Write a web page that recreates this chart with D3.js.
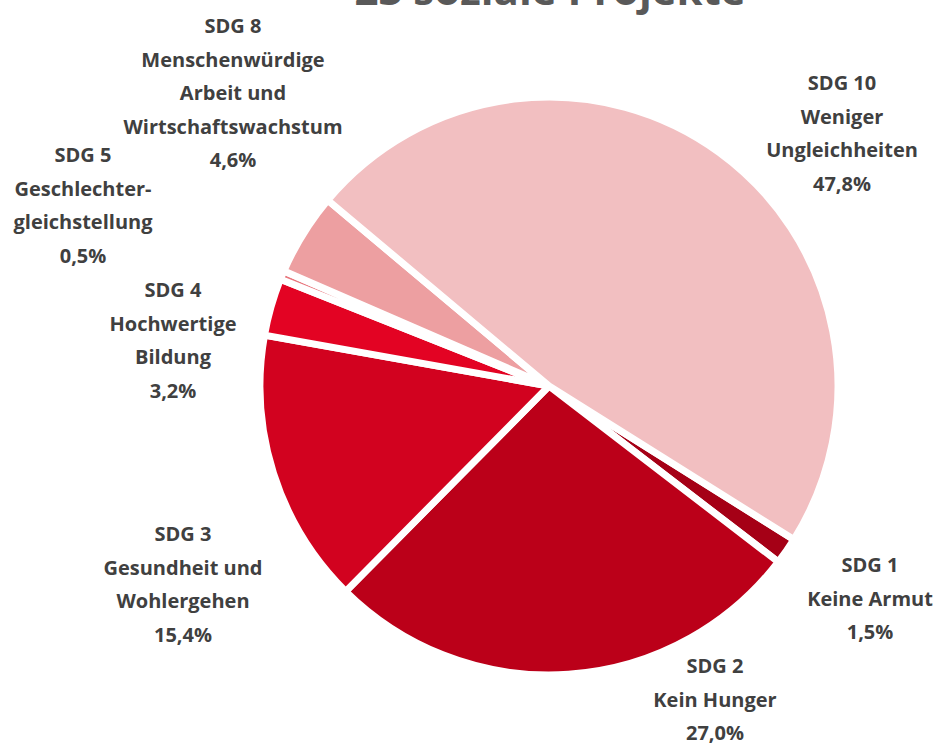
<!DOCTYPE html>
<html>
<head>
<meta charset="utf-8">
<style>
body { margin: 0; background-color: #ffffff; }

.slice {
  stroke: #ffffff;
  stroke-width: 7px;
  stroke-linejoin: miter;
}

.lbl {
  font-family: "Open Sans", Lato, Arial, sans-serif;
  font-weight: bold;
  font-size: 20px;
  fill: #404040;
}

.title {
  font-family: "Open Sans", Lato, Arial, sans-serif;
  font-weight: bold;
  font-size: 42px;
  fill: #595959;
}
</style>
<script src="https://d3js.org/d3.v7.min.js"></script>
</head>
<body>
<script>

var categories = ["SDG 1", "SDG 2", "SDG 3", "SDG 4", "SDG 5", "SDG 8", "SDG 10"];
var names = [
  ["Keine Armut"],
  ["Kein Hunger"],
  ["Gesundheit und", "Wohlergehen"],
  ["Hochwertige", "Bildung"],
  ["Geschlechter-", "gleichstellung"],
  ["Menschenwürdige", "Arbeit und", "Wirtschaftswachstum"],
  ["Weniger", "Ungleichheiten"]
];
var values = [1.5, 27.0, 15.4, 3.2, 0.5, 4.6, 47.8];
var colors = ["#a50016", "#bb0019", "#d2021f", "#e30323", "#e8767d", "#ed9fa1", "#f2bfc1"];

// label anchors (centre x, first baseline y)
var labelPos = [[870, 572], [715, 673], [183, 541], [173, 297], [83, 162], [233, 33], [842, 90]];

var width = 937, height = 743;
var cx = 549, cy = 386, radius = 289;

var svg = d3.select("body")
  .append("svg")
  .attr("width", width)
  .attr("height", height);

svg.append("text")
  .attr("class", "title")
  .attr("x", 550)
  .attr("y", 5)
  .attr("text-anchor", "middle")
  .text("23 soziale Projekte");

var pie = d3.pie()
  .sort(null)
  .startAngle(122.1 * Math.PI / 180)
  .endAngle(122.1 * Math.PI / 180 + 2 * Math.PI)
  .value(function(d) { return d; });

var arc = d3.arc()
  .innerRadius(0)
  .outerRadius(radius);

var g = svg.append("g")
  .attr("transform", "translate(" + cx + "," + cy + ")");

g.selectAll(".slice")
  .data(pie(values))
  .enter()
  .append("path")
  .attr("class", "slice")
  .attr("d", arc)
  .attr("fill", function(d, i) { return colors[i]; });

var fmt = function(v) { return v.toFixed(1).replace(".", ",") + "%"; };

categories.forEach(function(c, i) {
  var lines = [c].concat(names[i]).concat([fmt(values[i])]);
  var t = svg.append("text")
    .attr("class", "lbl")
    .attr("text-anchor", "middle");
  lines.forEach(function(l, j) {
    t.append("tspan")
      .attr("x", labelPos[i][0])
      .attr("y", labelPos[i][1] + j * 33.5)
      .text(l);
  });
});

</script>
</body>
</html>
